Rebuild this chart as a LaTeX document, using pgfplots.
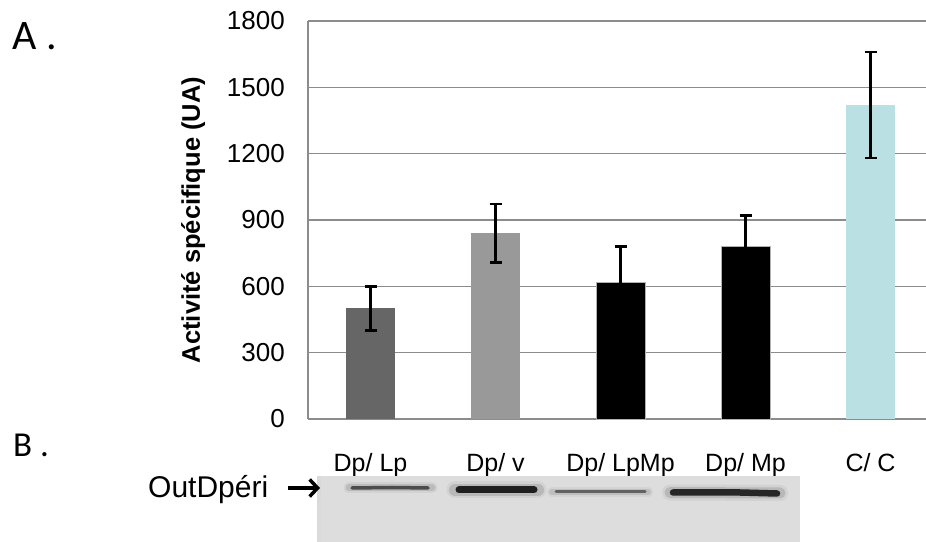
\documentclass[border=0pt]{standalone}
\usepackage{pgfplots}
\pgfplotsset{compat=1.18}
\usepackage{fontspec}
\setmainfont{Liberation Sans}
\newfontfamily\carlito{Carlito}
\usetikzlibrary{arrows.meta}
\definecolor{barA}{HTML}{666666}
\definecolor{barB}{HTML}{999999}
\definecolor{barC}{HTML}{000000}
\definecolor{barE}{HTML}{BBE0E3}
\definecolor{gridc}{HTML}{8C8C8C}
\definecolor{blotbg}{HTML}{DDDDDD}
\begin{document}
\begin{tikzpicture}[x=1bp,y=1bp]
\useasboundingbox (0,0) rectangle (926,542);
% ---------- A: bar chart ----------
\begin{axis}[
  at={(308bp,123bp)}, anchor=south west,
  scale only axis, width=618bp, height=398bp,
  xmin=-0.5, xmax=4.444, ymin=0, ymax=1800,
  axis x line*=bottom, axis y line*=left,
  axis line style={gridc, line width=1.3bp},
  ytick={0,300,...,1800},
  ymajorgrids, grid style={gridc, line width=1.3bp},
  major tick length=0pt,
  xtick={0,1,2,3,4},
  xticklabels={Dp/ Lp, Dp/ v, Dp/ LpMp, Dp/ Mp, C/ C},
  xticklabel style={font=\fontsize{25bp}{28bp}\selectfont, anchor=base, yshift=-53bp, inner sep=0pt},
  yticklabel style={font=\fontsize{26bp}{30bp}\selectfont, inner sep=0pt, xshift=-23bp},
  /pgf/number format/assume math mode=true,
  /pgf/number format/set thousands separator={},
  ylabel={Activité spécifique (UA)},
  every axis y label/.style={at={(axis description cs:-0.186,0.5)}, rotate=90, anchor=center,
     font=\bfseries\fontsize{25.5bp}{28bp}\selectfont},
  clip=false,
]
\pgfplotsset{errs/.style={error bars/.cd, y dir=both, y explicit,
   error bar style={black, line width=2.5bp},
   error mark options={black, rotate=90, mark size=6bp, line width=2.5bp}}}
\addplot[ybar, bar width=49bp, bar shift=0pt, fill=barA, draw=none, errs] coordinates {(0,500) +- (0,100)};
\addplot[ybar, bar width=49bp, bar shift=0pt, fill=barB, draw=none, errs] coordinates {(1,840) +- (0,133)};
\addplot[ybar, bar width=49bp, bar shift=0pt, fill=barC, draw=gray!60, errs] coordinates {(2,620) +- (0,160)};
\addplot[ybar, bar width=49bp, bar shift=0pt, fill=barC, draw=gray!60, errs] coordinates {(3,780) +- (0,140)};
\addplot[ybar, bar width=49bp, bar shift=0pt, fill=barE, draw=none, errs] coordinates {(4,1420) +- (0,240)};
\end{axis}
% ---------- B: blot ----------
\begin{axis}[
  at={(317bp,0bp)}, anchor=south west,
  scale only axis, width=483bp, height=66bp,
  xmin=317, xmax=800, ymin=0, ymax=66,
  hide axis, clip=true,
]
\addplot[fill=blotbg, draw=none] coordinates {(317,66) (800,66)} \closedcycle;
\addplot[fill=gray!30, draw=none, opacity=0.5] coordinates {(317,66) (321,66)} \closedcycle;
\addplot[fill=gray!25, draw=none, opacity=0.4] coordinates {(795,66) (800,66)} \closedcycle;
% band 1
\addplot[line width=11bp, color=gray!60, opacity=0.25, line cap=round] coordinates {(349,54) (432,54)};
\addplot[line width=7bp, color=gray!80, opacity=0.4, line cap=round] coordinates {(349,54) (432,54)};
\addplot[line width=3.5bp, color=black!70, line cap=round] coordinates {(352,54) (392,54.5) (428,54)};
% band 2
\addplot[line width=17bp, color=gray!60, opacity=0.25, line cap=round] coordinates {(455,52) (538,52)};
\addplot[line width=12bp, color=gray!80, opacity=0.45, line cap=round] coordinates {(455,52) (538,52)};
\addplot[line width=7bp, color=black!88, line cap=round] coordinates {(459,52) (534,52)};
% band 3
\addplot[line width=10bp, color=gray!60, opacity=0.22, line cap=round] coordinates {(552,50) (648,50)};
\addplot[line width=6bp, color=gray!80, opacity=0.35, line cap=round] coordinates {(552,50) (648,50)};
\addplot[line width=3bp, color=black!62, line cap=round] coordinates {(556,50) (600,50) (645,50)};
% band 4
\addplot[line width=16bp, color=gray!60, opacity=0.25, line cap=round] coordinates {(670,49.5) (780,49)};
\addplot[line width=11bp, color=gray!80, opacity=0.45, line cap=round] coordinates {(670,49.5) (780,49)};
\addplot[line width=6.5bp, color=black!85, line cap=round] coordinates {(673,49.5) (740,49.5) (777,48.5)};
\end{axis}
% ---------- annotations ----------
\node[anchor=base west, inner sep=0pt, font=\carlito\fontsize{42bp}{44bp}\selectfont] at (12bp,492bp) {A .};
\node[anchor=base west, inner sep=0pt, font=\carlito\fontsize{35bp}{38bp}\selectfont] at (13bp,85bp) {B .};
\node[anchor=base west, inner sep=0pt, font=\fontsize{30bp}{32bp}\selectfont] at (148bp,44bp) {OutDpéri};
\draw[line width=3.5bp, -{Straight Barb[length=8bp,width=17bp,line width=3.5bp]}] (288bp,54bp) -- (320bp,54bp);
\end{tikzpicture}
\end{document}
